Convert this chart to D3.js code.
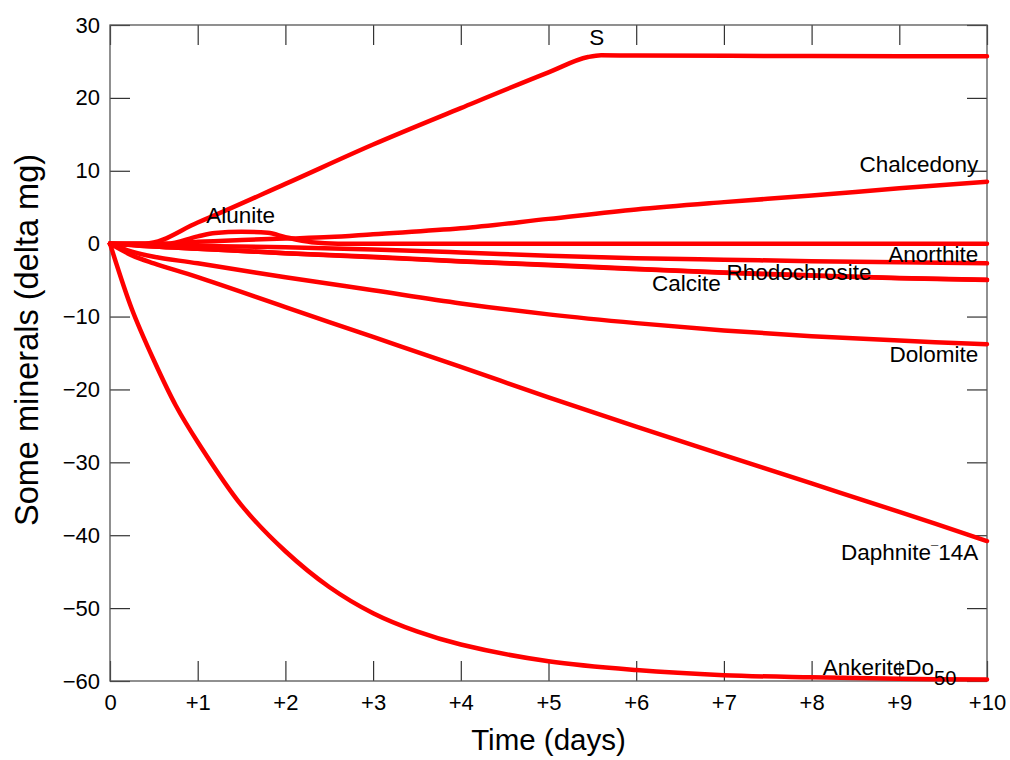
<!DOCTYPE html>
<html>
<head>
<meta charset="utf-8">
<script src="https://cdn.jsdelivr.net/npm/d3@7"></script>
<style>
    body { margin: 0; background: #fff; }
    text { font-family: "Liberation Sans", Arial, sans-serif; fill: #000; }
</style>
</head>
<body>
<svg id="chart" width="1010" height="760"></svg>
<script>
// Mineral mass changes (delta mg) against time (days), one pair of arrays per mineral.
var sulfurDays = [0, 0.4, 1, 2, 3, 4, 5, 5.45, 5.6, 6, 8, 10];
var sulfur = [0, 0, 2.9, 8.2, 13.6, 18.6, 23.5, 25.6, 25.85, 25.8, 25.75, 25.7];

var chalcedonyDays = [0, 0.65, 1, 1.5, 2, 2.5, 3, 4, 5, 6, 7, 8, 9, 10];
var chalcedony = [0, 0, 0.25, 0.5, 0.7, 0.9, 1.3, 2.1, 3.4, 4.7, 5.7, 6.6, 7.6, 8.5];

var aluniteDays = [0, 0.65, 1, 1.2, 1.5, 1.8, 2, 2.3, 2.6, 10];
var alunite = [0, 0, 1.0, 1.45, 1.65, 1.5, 0.9, 0.2, 0, 0];

var steadyDays = [0, 0.25, 0.5, 1, 2, 3, 4, 5, 6, 7, 8, 9, 10];
var anorthite = [0, -0.1, -0.2, -0.3, -0.5, -0.8, -1.2, -1.65, -2.0, -2.2, -2.4, -2.55, -2.7];
var calcite = [0, -0.2, -0.4, -0.7, -1.3, -1.8, -2.4, -2.9, -3.45, -3.95, -4.35, -4.7, -4.95];
var rhodochrosite = [0, -0.2, -0.4, -0.7, -1.3, -1.85, -2.45, -2.95, -3.5, -4.0, -4.4, -4.75, -5.0];
var dolomite = [0, -1.1, -1.8, -2.7, -4.6, -6.4, -8.2, -9.7, -10.9, -11.9, -12.7, -13.3, -13.8];
var daphnite = [0, -1.6, -2.7, -4.6, -8.7, -12.8, -16.9, -21.1, -25.1, -29.0, -32.9, -36.8, -40.8];

var ankeriteDays = [0, 0.25, 0.5, 0.75, 1, 1.5, 2, 2.5, 3, 3.5, 4, 5, 6, 7, 8, 9, 10];
var ankerite = [0, -9, -16, -22.2, -27.2, -35.9, -42.2, -47.1, -50.7, -53.2, -55.0, -57.3, -58.5, -59.2, -59.5, -59.7, -59.8];

var seriesDays = [sulfurDays, chalcedonyDays, aluniteDays, steadyDays, steadyDays, steadyDays, steadyDays, steadyDays, ankeriteDays];
var seriesValues = [sulfur, chalcedony, alunite, anorthite, calcite, rhodochrosite, dolomite, daphnite, ankerite];
// Sharp-cornered series keep the monotone curve, the smooth decays use Catmull-Rom.
var seriesSmooth = [false, false, false, false, false, false, true, true, true];

// Curve labels, placed in data units.
var labelText = ['S', 'Chalcedony', 'Alunite', 'Anorthite', 'Calcite', 'Rhodochrosite', 'Dolomite', 'Daphnite', 'AnkeriteDo'];
var labelDay = [5.55, 9.9, 1.49, 9.9, 6.18, 7.03, 9.9, 9.9, 9.65];
var labelValue = [27.3, 9.85, 2.85, -2.5, -6.5, -4.98, -16.2, -43.4, -59.2];
var labelAnchor = ['middle', 'end', 'middle', 'end', 'start', 'start', 'end', 'end', 'end'];

var xTicks = d3.range(0, 11);
var yTicks = d3.range(-60, 31, 10);

var margin = { top: 25, right: 23, bottom: 79, left: 110 };
var width = 1010 - margin.left - margin.right;
var height = 760 - margin.top - margin.bottom;

var svg = d3.select('#chart');

var g = svg.append('g')
    .attr('transform', 'translate(' + margin.left + ',' + margin.top + ')');

var x = d3.scaleLinear().domain([0, 10]).range([0, width]);
var y = d3.scaleLinear().domain([-60, 30]).range([height, 0]);

var tickLen = 20;

function styleAxis(sel) {
    sel.select('.domain').remove();
    sel.selectAll('.tick line').attr('stroke', '#333').attr('stroke-width', 1.2);
    sel.selectAll('.tick text')
        .style('font-family', '"Liberation Sans", Arial, sans-serif')
        .style('font-size', '22px')
        .attr('fill', '#000');
}

// Axes with inward ticks on all four sides.
g.append('g')
    .attr('transform', 'translate(0,' + height + ')')
    .call(d3.axisBottom(x).tickValues(xTicks).tickSizeInner(-tickLen).tickSizeOuter(0).tickPadding(13)
        .tickFormat(function (d) { return d === 0 ? '0' : '+' + d; }))
    .call(styleAxis);

g.append('g')
    .call(d3.axisTop(x).tickValues(xTicks).tickSizeInner(-tickLen).tickSizeOuter(0).tickFormat(''))
    .call(styleAxis);

g.append('g')
    .call(d3.axisLeft(y).tickValues(yTicks).tickSizeInner(-tickLen).tickSizeOuter(0).tickPadding(10)
        .tickFormat(d3.format('')))
    .call(styleAxis);

g.append('g')
    .attr('transform', 'translate(' + width + ',0)')
    .call(d3.axisRight(y).tickValues(yTicks).tickSizeInner(-tickLen).tickSizeOuter(0).tickFormat(''))
    .call(styleAxis);

// Plot frame.
g.append('rect')
    .attr('x', 0)
    .attr('y', 0)
    .attr('width', width)
    .attr('height', height)
    .attr('fill', 'none')
    .attr('stroke', '#555')
    .attr('stroke-width', 1.3);

// Mineral curves.
var monotoneLine = d3.line()
    .x(function (d) { return x(d[0]); })
    .y(function (d) { return y(d[1]); })
    .curve(d3.curveMonotoneX);

var smoothLine = d3.line()
    .x(function (d) { return x(d[0]); })
    .y(function (d) { return y(d[1]); })
    .curve(d3.curveCatmullRom.alpha(0.5));

g.selectAll('path.mineral')
    .data(seriesValues.map(function (values, i) {
        return { smooth: seriesSmooth[i], points: d3.zip(seriesDays[i], values) };
    }))
    .enter()
    .append('path')
    .attr('class', 'mineral')
    .attr('d', function (d) {
        return d.smooth ? smoothLine(d.points) : monotoneLine(d.points);
    })
    .attr('fill', 'none')
    .attr('stroke', '#ff0000')
    .attr('stroke-width', 4.5)
    .attr('stroke-linecap', 'round')
    .attr('stroke-linejoin', 'round');

// Curve labels.
var labels = g.selectAll('text.label')
    .data(labelText)
    .enter()
    .append('text')
    .attr('class', 'label')
    .attr('x', function (d, i) { return x(labelDay[i]); })
    .attr('y', function (d, i) { return y(labelValue[i]); })
    .attr('text-anchor', function (d, i) { return labelAnchor[i]; })
    .style('font-size', '22.5px')
    .text(function (d) { return d; });

// Small raised bar inside the daphnite label.
var daphniteLabel = labels.filter(function (d) { return d === 'Daphnite'; });
daphniteLabel.append('tspan')
    .attr('dy', -5)
    .style('font-size', '13px')
    .text('\u00af');
daphniteLabel.append('tspan')
    .attr('dy', 5)
    .text('14A');

// Subscript on the ankerite label.
labels.filter(function (d) { return d === 'AnkeriteDo'; })
    .append('tspan')
    .attr('dy', 10)
    .style('font-size', '20px')
    .text('50');

// Axis titles.
svg.append('text')
    .attr('x', margin.left + width / 2)
    .attr('y', 750)
    .attr('text-anchor', 'middle')
    .style('font-size', '29.5px')
    .text('Time (days)');

svg.append('text')
    .attr('transform', 'translate(38,340) rotate(-90)')
    .attr('text-anchor', 'middle')
    .style('font-size', '32.5px')
    .text('Some minerals (delta mg)');
</script>
</body>
</html>
